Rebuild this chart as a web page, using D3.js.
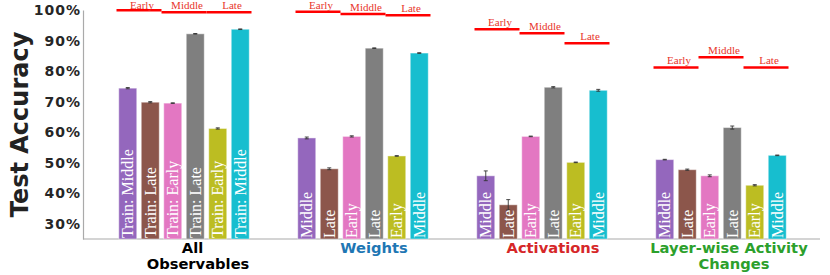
<!DOCTYPE html>
<html>
<head>
<meta charset="utf-8">
<script src="https://cdn.jsdelivr.net/npm/d3@7"></script>
<style>
  body { margin: 0; background: #fff; }
  svg { display: block; }
</style>
</head>
<body>
<div id="chart"></div>
<script>
// groups along the x axis
var groups = ["All Observables", "Weights", "Activations", "Layer-wise Activity Changes"];
var groupLines = [["All", "Observables"], ["Weights"], ["Activations"], ["Layer-wise Activity", "Changes"]];
var groupColors = ["#000000", "#1f77b4", "#d62728", "#2ca02c"];

// six bars per group
var barColors = ["#9467bd", "#8c564b", "#e377c2", "#7f7f7f", "#bcbd22", "#17becf"];
var trainLabels = ["Train: Middle", "Train: Late", "Train: Early", "Train: Late", "Train: Early", "Train: Middle"];
var shortLabels = ["Middle", "Late", "Early", "Late", "Early", "Middle"];

// test accuracy values
var allObsValues     = [0.744, 0.698, 0.695, 0.922, 0.612, 0.937];
var weightsValues    = [0.581, 0.480, 0.586, 0.875, 0.522, 0.859];
var activValues      = [0.457, 0.362, 0.586, 0.747, 0.501, 0.737];
var layerwiseValues  = [0.510, 0.477, 0.457, 0.615, 0.426, 0.524];

// error bar half-widths
var allObsErr    = [0.002, 0.002, 0.001, 0.001, 0.002, 0.001];
var weightsErr   = [0.003, 0.003, 0.002, 0.001, 0.001, 0.001];
var activErr     = [0.016, 0.017, 0.001, 0.002, 0.001, 0.003];
var layerwiseErr = [0.001, 0.002, 0.003, 0.005, 0.002, 0.001];

// red reference levels (Early / Middle / Late) for each group
var refNames = ["Early", "Middle", "Late"];
var allObsRef    = [0.999, 0.993, 0.993];
var weightsRef   = [0.994, 0.987, 0.983];
var activRef     = [0.937, 0.924, 0.891];
var layerwiseRef = [0.812, 0.845, 0.812];

var yTicks = [0.3, 0.4, 0.5, 0.6, 0.7, 0.8, 0.9, 1.0];

var values = [allObsValues, weightsValues, activValues, layerwiseValues];
var errors = [allObsErr, weightsErr, activErr, layerwiseErr];
var refs = [allObsRef, weightsRef, activRef, layerwiseRef];

var width = 830, height = 275;
var axisX = 83, axisBottom = 239, axisTop = 10;

var svg = d3.select("#chart").append("svg")
    .attr("width", width)
    .attr("height", height);

var y = d3.scaleLinear().domain([0.25, 1.0]).range([axisBottom, axisTop]);

var x0 = d3.scaleBand().domain(groups).range([94.5, 810.5]);
var x1 = d3.scaleBand().domain(d3.range(6)).range([-65.25, 65.25]).paddingInner(0.2);
var bw = x1.bandwidth();

// build a flat table of bars
var bars = [];
groups.forEach(function(g, gi) {
  values[gi].forEach(function(v, i) {
    bars.push({
      group: g, gi: gi, i: i, value: v, err: errors[gi][i],
      label: gi === 0 ? trainLabels[i] : shortLabels[i]
    });
  });
});

function barX(d) { return x0(d.group) + x0.bandwidth() / 2 + x1(d.i); }

// y axis
var yAxis = svg.append("g")
    .attr("transform", "translate(" + axisX + ",0)")
    .call(d3.axisLeft(y).tickValues(yTicks).tickSize(0).tickPadding(2)
      .tickFormat(function(d) { return Math.round(d * 100) + "%"; }));
yAxis.select(".domain").attr("stroke", "#aaaaaa").attr("stroke-width", 1.2);
yAxis.selectAll("text")
    .attr("font-family", "DejaVu Sans")
    .attr("font-weight", "bold")
    .attr("font-size", "14px")
    .attr("letter-spacing", "1px")
    .attr("fill", "#262626");

// x axis line
svg.append("line")
    .attr("x1", axisX).attr("x2", 820)
    .attr("y1", axisBottom).attr("y2", axisBottom)
    .attr("stroke", "#aaaaaa").attr("stroke-width", 1.2);

// bars
svg.selectAll(".bar")
    .data(bars)
    .enter().append("rect")
    .attr("class", "bar")
    .attr("x", barX)
    .attr("y", function(d) { return y(d.value); })
    .attr("width", bw)
    .attr("height", function(d) { return axisBottom - y(d.value); })
    .attr("fill", function(d) { return barColors[d.i]; })
    .attr("stroke", "#ffffff")
    .attr("stroke-opacity", 0.45)
    .attr("stroke-width", 1);

// error bars
var eb = svg.selectAll(".err")
    .data(bars)
    .enter().append("g")
    .attr("class", "err")
    .attr("stroke", "#333333")
    .attr("stroke-width", 0.9);
eb.append("line")
    .attr("x1", function(d) { return barX(d) + bw / 2; })
    .attr("x2", function(d) { return barX(d) + bw / 2; })
    .attr("y1", function(d) { return y(d.value - d.err); })
    .attr("y2", function(d) { return y(d.value + d.err); });
[-1, 1].forEach(function(s) {
  eb.append("line")
      .attr("x1", function(d) { return barX(d) + bw / 2 - 2; })
      .attr("x2", function(d) { return barX(d) + bw / 2 + 2; })
      .attr("y1", function(d) { return y(d.value + s * d.err); })
      .attr("y2", function(d) { return y(d.value + s * d.err); });
});

// labels inside bars
svg.selectAll(".barlabel")
    .data(bars)
    .enter().append("text")
    .attr("class", "barlabel")
    .attr("transform", function(d) {
      return "translate(" + (barX(d) + bw / 2 + 5.5) + "," + (axisBottom - 1) + ") rotate(-90)";
    })
    .attr("font-family", "Liberation Serif")
    .attr("font-size", "16px")
    .attr("fill", "#ffffff")
    .text(function(d) { return d.label; });

// red reference segments
var refData = [];
groups.forEach(function(g, gi) {
  refs[gi].forEach(function(v, k) {
    refData.push({ group: g, k: k, value: v, name: refNames[k] });
  });
});
var step = x1.step();
function refX1(d) { return x0(d.group) + x0.bandwidth() / 2 + x1(2 * d.k) - (step - bw) / 2; }
function refX2(d) { return refX1(d) + 2 * step; }

svg.selectAll(".ref")
    .data(refData)
    .enter().append("line")
    .attr("class", "ref")
    .attr("x1", refX1).attr("x2", refX2)
    .attr("y1", function(d) { return y(d.value); })
    .attr("y2", function(d) { return y(d.value); })
    .attr("stroke", "#ff0000")
    .attr("stroke-width", 2.5);

svg.selectAll(".reflabel")
    .data(refData)
    .enter().append("text")
    .attr("class", "reflabel")
    .attr("x", function(d) { return (refX1(d) + refX2(d)) / 2 + 3; })
    .attr("y", function(d) { return Math.max(y(d.value) - 3, 8.5); })
    .attr("text-anchor", "middle")
    .attr("font-family", "Liberation Serif")
    .attr("font-size", "11px")
    .attr("fill", "#e8352b")
    .text(function(d) { return d.name; });

// group labels under the axis
var lineOffsets = [[8.5, 14], [11], [11], [8, 13]];
groups.forEach(function(g, gi) {
  groupLines[gi].forEach(function(t, li) {
    svg.append("text")
        .attr("x", x0(g) + x0.bandwidth() / 2 + lineOffsets[gi][li])
        .attr("y", 252.5 + li * 16.5)
        .attr("text-anchor", "middle")
        .attr("font-family", "DejaVu Sans")
        .attr("font-weight", "bold")
        .attr("font-size", "14.7px")
        .attr("fill", groupColors[gi])
        .text(t);
  });
});

// y axis title
svg.append("text")
    .attr("transform", "translate(28," + 124.5 + ") rotate(-90)")
    .attr("text-anchor", "middle")
    .attr("font-family", "DejaVu Sans")
    .attr("font-weight", "bold")
    .attr("font-size", "24px")
    .attr("fill", "#222222")
    .text("Test Accuracy");
</script>
</body>
</html>
